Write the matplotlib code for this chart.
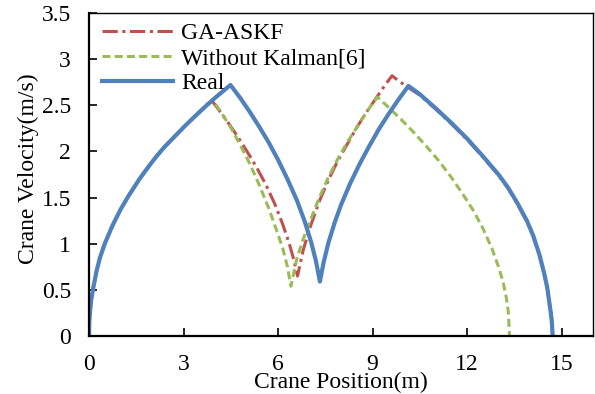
import numpy as np
import matplotlib.pyplot as plt
from matplotlib.ticker import FuncFormatter

# --- values ---
# shared first acceleration phase (all three curves coincide here)
start_x = [0, 0.01, 0.03, 0.07, 0.14, 0.25, 0.35, 0.5, 0.75, 1.0, 1.24, 1.6, 1.9, 2.15, 2.4,
           2.6, 2.8, 3.0, 3.3, 3.61]
start_v = [0, 0.15, 0.26, 0.39, 0.53, 0.72, 0.85, 1.0, 1.2, 1.37, 1.51, 1.7, 1.84, 1.95, 2.05,
           2.12, 2.19, 2.26, 2.36, 2.46]

# Real trajectory (after the shared phase)
real_x = [4.0, 4.49, 4.8, 5.1, 5.4, 5.7, 6.0, 6.3, 6.6, 6.85, 7.05, 7.2, 7.33,
          7.45, 7.6, 7.8, 8.0, 8.3, 8.6, 8.9, 9.2, 9.5, 9.8, 10.14,
          10.5, 11.0, 11.5, 12.0, 12.5, 13.0, 13.3, 13.6, 13.9, 14.1, 14.3, 14.45, 14.55,
          14.64, 14.69, 14.72]
real_v = [2.58, 2.72, 2.58, 2.43, 2.27, 2.1, 1.91, 1.7, 1.47, 1.24, 1.02, 0.82, 0.59,
          0.8, 1.01, 1.23, 1.42, 1.66, 1.87, 2.06, 2.24, 2.4, 2.55, 2.71,
          2.62, 2.47, 2.31, 2.14, 1.95, 1.75, 1.61, 1.44, 1.25, 1.09, 0.88, 0.68, 0.52,
          0.3, 0.17, 0]

# GA-ASKF estimate (after the shared phase)
ga_x = [3.88, 4.1, 4.4, 4.7, 5.0, 5.3, 5.6, 5.9, 6.15, 6.35, 6.5, 6.62,
        6.8, 7.0, 7.3, 7.6, 7.9, 8.2, 8.5, 8.8, 9.1, 9.4, 9.62, 9.85, 10.1,
        10.5, 11.0, 11.5, 12.0, 12.5, 13.0, 13.3, 13.6, 13.9, 14.1, 14.3, 14.45, 14.55,
        14.64, 14.69, 14.72]
ga_v = [2.56, 2.46, 2.32, 2.17, 2.01, 1.84, 1.65, 1.43, 1.21, 1.01, 0.83, 0.65,
        0.93, 1.16, 1.45, 1.69, 1.9, 2.08, 2.26, 2.42, 2.57, 2.72, 2.82, 2.76, 2.7,
        2.61, 2.46, 2.3, 2.13, 1.94, 1.74, 1.6, 1.43, 1.24, 1.08, 0.87, 0.67, 0.51,
        0.3, 0.17, 0]

# Without Kalman [6] (after the shared phase)
wk_x = [3.92, 4.2, 4.5, 4.8, 5.1, 5.4, 5.7, 5.95, 6.15, 6.3, 6.41,
        6.6, 6.8, 7.0, 7.3, 7.6, 7.9, 8.2, 8.5, 8.8, 9.0, 9.16,
        9.5, 9.9, 10.3, 10.7, 11.1, 11.5, 11.9, 12.2, 12.5, 12.8, 13.0, 13.15, 13.25,
        13.31, 13.35]
wk_v = [2.56, 2.42, 2.26, 2.07, 1.87, 1.64, 1.39, 1.15, 0.95, 0.75, 0.54,
        0.84, 1.05, 1.23, 1.49, 1.72, 1.92, 2.1, 2.26, 2.42, 2.52, 2.59,
        2.48, 2.35, 2.21, 2.06, 1.9, 1.72, 1.52, 1.36, 1.17, 0.94, 0.75, 0.58, 0.41,
        0.27, 0]

x_ticks = [0, 3, 6, 9, 12, 15]
y_ticks = [0, 0.5, 1, 1.5, 2, 2.5, 3, 3.5]

plt.rcParams['font.family'] = ['Liberation Serif', 'DejaVu Serif']
plt.rcParams['font.size'] = 17

fig = plt.figure(figsize=(5.95, 3.94), dpi=100)
ax = fig.add_axes([89 / 595, 58 / 394, 504 / 595, 323 / 394])

ax.plot(start_x + ga_x, start_v + ga_v, color='#C0504D', lw=2.2,
        dashes=(5, 1.5, 1, 1.5), label='GA-ASKF')
ax.plot(start_x + wk_x, start_v + wk_v, color='#9BBB59', lw=2.2,
        dashes=(2.6, 1.4), label='Without Kalman[6]')
ax.plot(start_x + real_x, start_v + real_v, color='#4F81BD', lw=3.0, label='Real')

ax.set_xlim(0, 16)
ax.set_ylim(0, 3.5)
ax.set_xticks(x_ticks)
ax.set_yticks(y_ticks)
ax.yaxis.set_major_formatter(FuncFormatter(lambda v, p: f'{v:g}'))
ax.tick_params(direction='in', length=5.5, width=1.2, pad=13, colors='black')

for side in ['left', 'bottom']:
    ax.spines[side].set_linewidth(1.6)
for side in ['top', 'right']:
    ax.spines[side].set_linewidth(1.0)

ax.set_xlabel('Crane Position(m)')
ax.set_ylabel('Crane Velocity(m/s)')
ax.xaxis.set_label_coords(0.5, -0.112)
ax.yaxis.set_label_coords(-0.1, 0.517)

ax.legend(loc='upper left', bbox_to_anchor=(13 / 504, 0.97), frameon=False,
          borderaxespad=0, borderpad=0, handlelength=3.0, handletextpad=0.35,
          labelspacing=0.15)

fig.savefig('out.png', dpi=100)
